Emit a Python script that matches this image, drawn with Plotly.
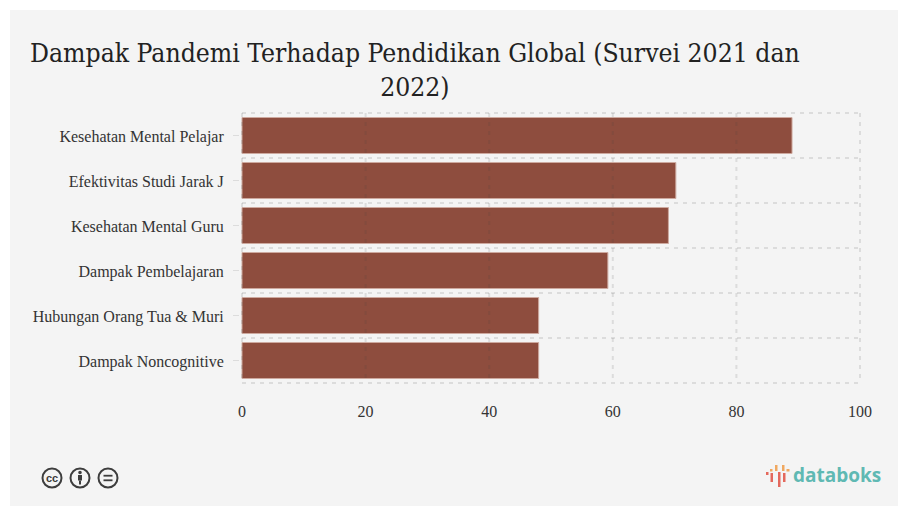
import plotly.graph_objects as go

WIDTH, HEIGHT = 898, 506

title_lines = ["Dampak Pandemi Terhadap Pendidikan Global (Survei 2021 dan", "2022)"]
categories = [
    "Kesehatan Mental Pelajar",
    "Efektivitas Studi Jarak J",
    "Kesehatan Mental Guru",
    "Dampak Pembelajaran",
    "Hubungan Orang Tua & Muri",
    "Dampak Noncognitive",
]
values = [89, 70.2, 69, 59.2, 48, 48]
x_ticks = [0, 20, 40, 60, 80, 100]

BAR = "#833c2b"
GRID = "rgba(60,60,60,0.13)"
TICK = "#dcdcdc"
PANEL = "#f4f4f4"
LABEL = "#333333"
ICON = "#3d3d3d"
TEAL = "#5fb9b3"


def px(x):
    return x / WIDTH


def py(y):
    return 1 - y / HEIGHT


def rect(x0, y0, x1, y1, color, layer="above"):
    return dict(type="rect", xref="paper", yref="paper", x0=px(x0), x1=px(x1), y0=py(y0), y1=py(y1),
                fillcolor=color, line_width=0, layer=layer)


def ring(cx, cy, r, color, width):
    return dict(type="circle", xref="paper", yref="paper", x0=px(cx - r), x1=px(cx + r), y0=py(cy - r), y1=py(cy + r),
                line=dict(color=color, width=width), fillcolor="rgba(0,0,0,0)")


def disc(cx, cy, r, color):
    return dict(type="circle", xref="paper", yref="paper", x0=px(cx - r), x1=px(cx + r), y0=py(cy - r), y1=py(cy + r),
                line_width=0, fillcolor=color)


fig = go.Figure(
    go.Bar(
        x=values,
        y=categories,
        orientation="h",
        opacity=0.9,
        marker=dict(color=BAR, line=dict(color="#c9a196", width=1)),
        hoverinfo="x+y",
    )
)

# Panel behind the chart, then the licence badges and the brand mark in the footer
shapes = [rect(10, 10, 898, 506, PANEL, layer="below")]
shapes += [ring(52, 478, 9.5, ICON, 2), ring(80, 478, 9.5, ICON, 2), ring(108, 478, 9.5, ICON, 2)]
shapes += [disc(80, 472.5, 1.8, ICON), rect(78, 475, 82, 480.5, ICON), rect(79, 480.5, 81, 484.5, ICON)]
shapes += [rect(103.5, 474.8, 112.5, 476.6, ICON), rect(103.5, 479.4, 112.5, 481.2, ICON)]
shapes += [
    rect(766, 472, 768.5, 475, "#e4685c"),
    rect(770, 469, 772.5, 471.5, "#f0a860"),
    rect(770.5, 473, 773, 482, "#e4685c"),
    rect(775, 465, 777.5, 471, "#f0a860"),
    rect(778, 472, 780.5, 487, "#e4685c"),
    rect(782, 465, 784.5, 471, "#f0a860"),
    rect(783, 473, 785.5, 482, "#e4685c"),
    rect(786.5, 469, 789.5, 471.5, "#f0a860"),
]

# Dashed grid runs over the bars: one rule per x tick and per category boundary
grid_line = dict(color=GRID, width=2, dash="4px,5px")
band_edges = [i - 0.5 for i in range(len(categories) + 1)]
for tick in x_ticks:
    shapes.append(dict(type="line", xref="x", yref="y", x0=tick, x1=tick, y0=band_edges[0], y1=band_edges[-1],
                       line=grid_line, layer="above"))
for edge in band_edges:
    shapes.append(dict(type="line", xref="x", yref="y", x0=x_ticks[0], x1=x_ticks[-1], y0=edge, y1=edge,
                       line=grid_line, layer="above"))

annotations = [
    dict(text="<br>".join(title_lines), xref="paper", yref="paper", x=px(415), y=py(70.5), xanchor="center",
         yanchor="middle", showarrow=False, align="center",
         font=dict(family="DejaVu Serif Condensed, DejaVu Serif, serif", size=26.3, color="#222222")),
    dict(text="<b>cc</b>", xref="paper", yref="paper", x=px(52), y=py(477.5), showarrow=False, xanchor="center",
         yanchor="middle", font=dict(family="Liberation Sans", size=11, color=ICON)),
    dict(text="<b>databoks</b>", xref="paper", yref="paper", x=px(837), y=py(475), xanchor="center", yanchor="middle",
         showarrow=False, font=dict(family="Open Sans", size=19, color=TEAL)),
]

fig.update_layout(
    width=WIDTH,
    height=HEIGHT,
    margin=dict(l=0, r=0, t=0, b=0, autoexpand=False),
    paper_bgcolor="white",
    plot_bgcolor="rgba(0,0,0,0)",
    showlegend=False,
    bargap=0.2,
    shapes=shapes,
    annotations=annotations,
    font=dict(family="Liberation Serif", size=16, color=LABEL),
    # Both axes run a touch past their outer ticks so the edge rules are not clipped
    xaxis=dict(
        domain=[px(240), px(862)],
        range=[-2 / 6.18, 100 + 2 / 6.18],
        tickvals=x_ticks,
        showgrid=False,
        zeroline=False,
        showline=False,
        ticks="",
        ticklabelstandoff=15,
        tickfont=dict(size=16, color=LABEL),
    ),
    yaxis=dict(
        domain=[py(385), py(111)],
        type="category",
        categoryorder="array",
        categoryarray=categories,
        range=[5.5 + 2 / 45, -0.5 - 2 / 45],
        showgrid=False,
        zeroline=False,
        showline=False,
        ticks="outside",
        ticklen=6,
        tickcolor=TICK,
        tickwidth=1,
        ticklabelstandoff=6,
        ticklabelshift=-1,
        tickfont=dict(size=16, color=LABEL),
    ),
)

fig.write_html("out.html", config=dict(displayModeBar=False))
